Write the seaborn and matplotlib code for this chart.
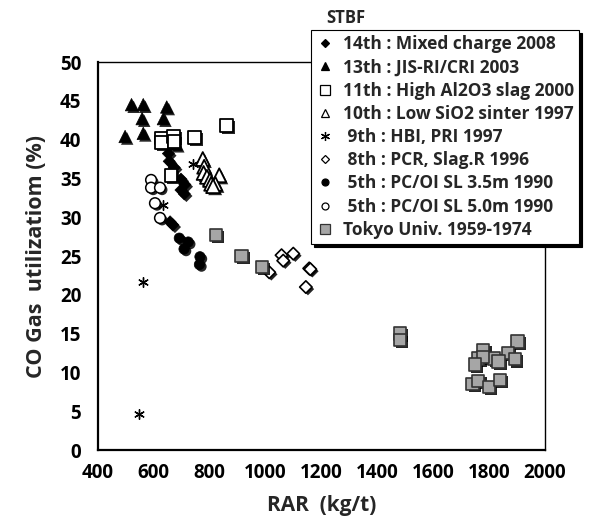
import matplotlib
matplotlib.use("Agg")
import matplotlib.pyplot as plt
import matplotlib.patheffects as pe
from matplotlib.lines import Line2D
import seaborn as sns
import pandas as pd

sns.set_style("white")
plt.rcParams['font.family'] = ['Open Sans', 'DejaVu Sans']
plt.rcParams['font.weight'] = 'bold'

labels = [
    "14th : Mixed charge 2008",
    "13th : JIS-RI/CRI 2003",
    "11th : High Al2O3 slag 2000",
    "10th : Low SiO2 sinter 1997",
    " 9th : HBI, PRI 1997",
    " 8th : PCR, Slag.R 1996",
    " 5th : PC/OI SL 3.5m 1990",
    " 5th : PC/OI SL 5.0m 1990",
    "Tokyo Univ. 1959-1974",
]

x14 = [652, 655, 673, 697, 711, 697, 709, 658, 668]
y14 = [38.2, 37.2, 36.4, 34.9, 34.2, 33.5, 33.0, 29.4, 29.0]
x13 = [520, 562, 646, 558, 634, 497, 562, 680]
y13 = [44.5, 44.5, 44.2, 42.7, 42.7, 40.4, 40.8, 39.4]
x11 = [626, 628, 670, 672, 745, 861, 661]
y11 = [40.2, 39.6, 40.4, 39.8, 40.3, 41.8, 35.4]
x10 = [775, 780, 778, 790, 801, 834, 805, 820, 812]
y10 = [37.5, 36.5, 35.7, 35.2, 34.8, 35.4, 34.3, 34.3, 34.0]
x9 = [741, 634, 562, 547]
y9 = [36.9, 31.6, 21.6, 4.7]
x8 = [1013, 1057, 1063, 1099, 1156, 1160, 1144]
y8 = [22.9, 25.1, 24.4, 25.3, 23.4, 23.3, 21.0]
x5a = [691, 723, 708, 765, 763]
y5a = [27.3, 26.8, 25.9, 24.9, 23.9]
x5b = [590, 590, 622, 604, 622]
y5b = [34.8, 33.8, 33.8, 31.8, 29.9]
xtk = [822, 914, 986, 1480, 1480, 1901, 1779, 1868, 1761, 1818, 1779, 1833,
       1893, 1749, 1741, 1761, 1800, 1839]
ytk = [27.7, 25.0, 23.6, 15.0, 14.2, 14.0, 12.9, 12.5, 11.8, 11.8, 12.0, 11.4,
       11.7, 11.0, 8.5, 8.9, 8.1, 9.0]

xticks = [400, 600, 800, 1000, 1200, 1400, 1600, 1800, 2000]
yticks = [0, 5, 10, 15, 20, 25, 30, 35, 40, 45, 50]

series = [
    (x14, y14, dict(marker='D', s=38, color='black', edgecolor='black', linewidth=0.5)),
    (x13, y13, dict(marker='^', s=80, color='black', edgecolor='black', linewidth=0.5)),
    (x11, y11, dict(marker='s', s=85, color='white', edgecolor='black', linewidth=1.3)),
    (x10, y10, dict(marker='^', s=100, color='white', edgecolor='black', linewidth=1.3)),
    (x9, y9, dict(marker=(6, 2, 0), s=48, color='black', linewidth=1.0)),
    (x8, y8, dict(marker='D', s=40, color='white', edgecolor='black', linewidth=1.2)),
    (x5a, y5a, dict(marker='o', s=55, color='black', edgecolor='black', linewidth=0.5)),
    (x5b, y5b, dict(marker='o', s=60, color='white', edgecolor='black', linewidth=1.1)),
    (xtk, ytk, dict(marker='s', s=80, color='#a6a6a6', edgecolor='#333333', linewidth=1.2)),
]

fig = plt.figure(figsize=(6.0, 5.19), dpi=100)
ax = fig.add_axes([98/600, 1-450/519, (545-98)/600, (450-62)/519])

shadow = [pe.SimplePatchShadow(offset=(1.5, -1.5), shadow_rgbFace='black', alpha=0.85), pe.Normal()]

handles = []
for (xs, ys, kw), lab in zip(series, labels):
    df = pd.DataFrame({"RAR": xs, "CO": ys})
    sns.scatterplot(data=df, x="RAR", y="CO", ax=ax, legend=False, zorder=3, **kw)
    coll = ax.collections[-1]
    if kw['marker'] != (6, 2, 0):
        coll.set_path_effects(shadow)
    mk = kw['marker']
    if mk == (6, 2, 0):
        h = Line2D([], [], linestyle='none', marker=mk, markersize=6.5, color='black',
                   markeredgewidth=0.9)
    else:
        h = Line2D([], [], linestyle='none', marker=mk,
                   markersize={'D': 4.5, '^': 6, 's': 6.5, 'o': 5}[mk],
                   markerfacecolor=kw['color'], markeredgecolor=kw.get('edgecolor', 'black'),
                   markeredgewidth=0.9)
    handles.append(h)

ax.set_xlim(400, 2000)
ax.set_ylim(0, 50)
ax.set_xticks(xticks)
ax.set_yticks(yticks)
ax.tick_params(direction='in', length=6, width=1, labelsize=13.5, colors='black')
ax.tick_params(axis='y', pad=12)
ax.tick_params(axis='x', pad=9)
for t in ax.get_xticklabels() + ax.get_yticklabels():
    t.set_fontweight('bold')
for sp in ax.spines.values():
    sp.set_color('black')
    sp.set_linewidth(1.0)
for sp in ['left', 'bottom']:
    ax.spines[sp].set_linewidth(1.6)

ax.set_xlabel("RAR  (kg/t)", fontsize=15, fontweight='bold', labelpad=9)
ax.set_ylabel("CO Gas  utilizatiom (%)", fontsize=15.5, fontweight='bold', labelpad=9)

leg = fig.legend(handles, labels, loc='upper left', bbox_to_anchor=(311/600, 1-30/519),
                 frameon=True, fancybox=False, shadow={'color': 'black', 'alpha': 1},
                 prop={'size': 12.5, 'weight': 'bold'}, handlelength=1.0, handletextpad=0.55,
                 labelspacing=0.3, borderpad=0.3, borderaxespad=0)
leg.get_frame().set_edgecolor('black')
leg.get_frame().set_linewidth(0.8)
fig.text(326/600, 1-18/519, "STBF", fontsize=12, fontweight='bold', va='center', ha='left')

fig.savefig("out.png", dpi=100)
